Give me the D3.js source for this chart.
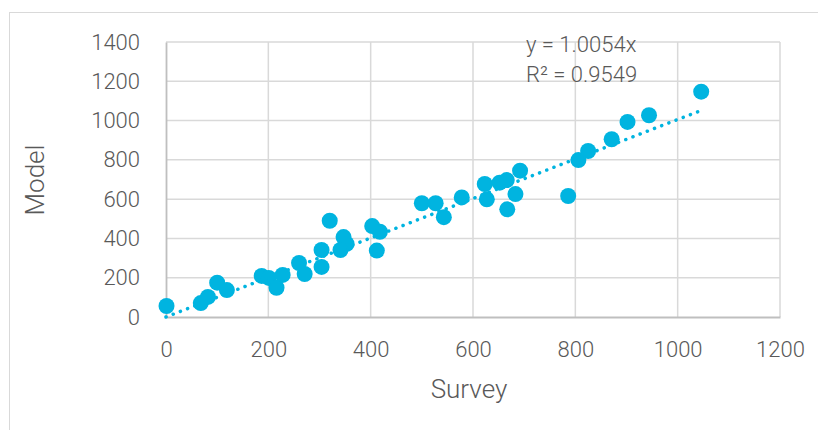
<!DOCTYPE html>
<html>
<head>
<meta charset="utf-8">
<script src="https://cdn.jsdelivr.net/npm/d3@7"></script>
<style>
  html, body { margin: 0; padding: 0; background: #fff; }
  svg { display: block; }
  text { font-family: Roboto, "Liberation Sans", sans-serif; font-weight: 300; fill: #595959; }
</style>
</head>
<body>
<svg id="chart" width="818" height="430"></svg>
<script>
// Survey vs. model estimates for each site
const survey = [1, 68, 82, 100, 119, 187, 201, 216, 228, 260, 271, 304, 304, 320, 347, 353, 341,
  403, 418, 412, 500, 527, 543, 578, 623, 627, 652, 666, 683, 667, 692, 786, 806, 825, 871, 902, 944, 1046];
const model = [56, 71, 102, 175, 137, 209, 199, 149, 214, 275, 219, 341, 255, 490, 407, 372, 341,
  463, 434, 338, 579, 579, 508, 609, 677, 599, 684, 697, 626, 548, 745, 616, 799, 845, 905, 993, 1027, 1147];

const xTicks = [0, 200, 400, 600, 800, 1000, 1200];
const yTicks = [0, 200, 400, 600, 800, 1000, 1200, 1400];

// Linear fit through the origin
const slope = 1.0054;
const rSquared = 0.9549;

const color = "#00B4E0";
const gridColor = "#d9d9d9";

const svg = d3.select("#chart");

// Chart area frame
svg.append("rect")
  .attr("x", 9.5).attr("y", 12.5)
  .attr("width", 830).attr("height", 430)
  .attr("fill", "none").attr("stroke", gridColor).attr("stroke-width", 1);

const plot = { left: 166, right: 780, top: 42, bottom: 317 };

const x = d3.scaleLinear().domain([0, 1200]).range([plot.left, plot.right]);
const y = d3.scaleLinear().domain([0, 1400]).range([plot.bottom, plot.top]);

// Gridlines
svg.append("g")
  .selectAll("line.h")
  .data(yTicks.filter(d => d > 0))
  .join("line")
  .attr("x1", plot.left).attr("x2", plot.right)
  .attr("y1", d => y(d)).attr("y2", d => y(d))
  .attr("stroke", gridColor).attr("stroke-width", 1.5);

svg.append("g")
  .selectAll("line.v")
  .data(xTicks.filter(d => d > 0))
  .join("line")
  .attr("x1", d => x(d)).attr("x2", d => x(d))
  .attr("y1", plot.top).attr("y2", plot.bottom)
  .attr("stroke", gridColor).attr("stroke-width", 1.5);

// Axes
const xAxis = svg.append("g")
  .attr("transform", `translate(0,${plot.bottom})`)
  .call(d3.axisBottom(x).tickValues(xTicks).tickSize(0).tickPadding(24).tickFormat(d3.format("d")));
xAxis.select(".domain").attr("stroke", "#bfbfbf").attr("stroke-width", 1.8);
xAxis.selectAll("text").attr("font-size", 22).attr("dy", "0.71em")
  .style("font-family", 'Roboto, sans-serif').style("fill", "#595959");

const yAxis = svg.append("g")
  .attr("transform", `translate(${plot.left},0)`)
  .call(d3.axisLeft(y).tickValues(yTicks).tickSize(0).tickPadding(26).tickFormat(d3.format("d")));
yAxis.select(".domain").attr("stroke", "#bfbfbf").attr("stroke-width", 1.8);
yAxis.selectAll("text").attr("font-size", 22)
  .style("font-family", 'Roboto, sans-serif').style("fill", "#595959");

// Axis titles
svg.append("text")
  .attr("x", 469).attr("y", 398)
  .attr("text-anchor", "middle")
  .attr("font-size", 26)
  .text("Survey");

svg.append("text")
  .attr("transform", `translate(44,180) rotate(-90)`)
  .attr("text-anchor", "middle")
  .attr("font-size", 26)
  .text("Model");

// Points
svg.append("g")
  .selectAll("circle")
  .data(survey.map((s, i) => [s, model[i]]))
  .join("circle")
  .attr("cx", d => x(d[0]))
  .attr("cy", d => y(d[1]))
  .attr("r", 8)
  .attr("fill", color);

// Trendline over the survey range
const xMax = d3.max(survey);
svg.append("line")
  .attr("x1", x(0)).attr("y1", y(0))
  .attr("x2", x(xMax)).attr("y2", y(xMax * slope))
  .attr("stroke", color)
  .attr("stroke-width", 3.5)
  .attr("stroke-linecap", "round")
  .attr("stroke-dasharray", "0.1 7.6");

// Fit equation
svg.append("text")
  .attr("x", 526).attr("y", 52)
  .attr("font-size", 22)
  .text(`y = ${slope.toFixed(4)}x`);
svg.append("text")
  .attr("x", 526).attr("y", 82)
  .attr("font-size", 22)
  .text(`R² = ${rSquared.toFixed(4)}`);
</script>
</body>
</html>
